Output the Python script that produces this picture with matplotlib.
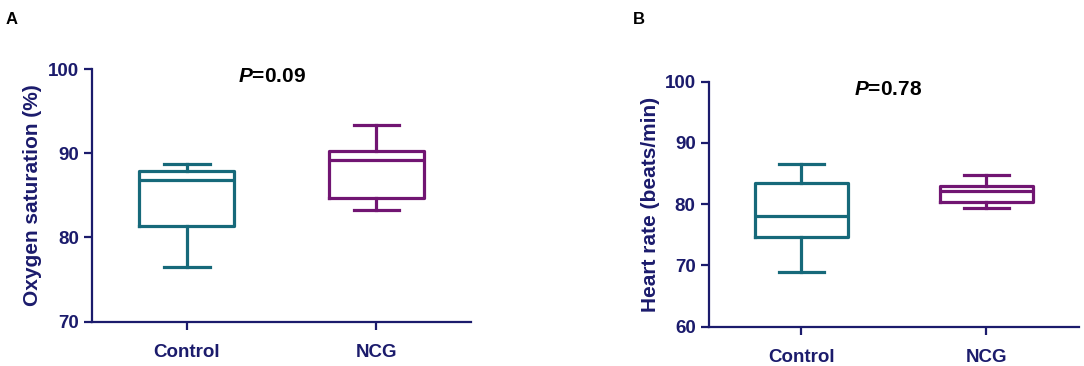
import matplotlib
matplotlib.use("Agg")
import matplotlib.pyplot as plt

plt.rcParams["font.family"] = ["Liberation Sans", "DejaVu Sans"]
plt.rcParams["font.weight"] = "bold"
plt.rcParams["mathtext.fontset"] = "custom"
plt.rcParams["mathtext.it"] = "Liberation Sans:italic:bold"

navy = "#1b1b6c"
teal = "#16697a"
purple = "#711572"

groups = ["Control", "NCG"]

# oxygen saturation (%) box stats: whislo, q1, med, q3, whishi
o2_control = [76.5, 81.4, 86.8, 87.9, 88.7]
o2_ncg = [83.3, 84.7, 89.2, 90.3, 93.3]

# heart rate (beats/min)
hr_control = [68.9, 74.7, 78.0, 83.5, 86.5]
hr_ncg = [79.4, 80.3, 82.2, 82.9, 84.7]

p_values = ["0.09", "0.78"]


def stats(vals, label):
    lo, q1, med, q3, hi = vals
    return dict(whislo=lo, q1=q1, med=med, q3=q3, whishi=hi, label=label, fliers=[])


def panel(ax, data, ylim, yticks, ylabel, pval, ptxt_x, lpad):
    colors = [teal, purple]
    for i, (vals, c) in enumerate(zip(data, colors)):
        lw = 2.3
        ax.bxp([stats(vals, groups[i])], positions=[i + 1], widths=0.5,
               capwidths=0.24, showfliers=False,
               boxprops=dict(color=c, linewidth=lw),
               medianprops=dict(color=c, linewidth=lw),
               whiskerprops=dict(color=c, linewidth=lw),
               capprops=dict(color=c, linewidth=lw))
    ax.set_xlim(0.5, 2.5)
    ax.set_ylim(*ylim)
    ax.set_yticks(yticks)
    ax.set_xticks([1, 2])
    ax.set_xticklabels(groups)
    for s in ["top", "right"]:
        ax.spines[s].set_visible(False)
    for s in ["left", "bottom"]:
        ax.spines[s].set_color(navy)
        ax.spines[s].set_linewidth(1.6)
    ax.tick_params(colors=navy, width=1.6, length=6, labelsize=13.5)
    ax.tick_params(axis="x", pad=10, labelsize=13.5)
    for lab in ax.get_xticklabels() + ax.get_yticklabels():
        lab.set_fontweight("bold")
        lab.set_color(navy)
    ax.set_ylabel(ylabel, fontsize=15, fontweight="bold", color=navy, labelpad=lpad)
    ax.text(ptxt_x, ylim[1] - 0.03 * (ylim[1] - ylim[0]), "$\\mathit{P}$=" + pval,
            ha="center", va="center", fontsize=15, fontweight="bold", color="black")


fig = plt.figure(figsize=(10.84, 3.66), dpi=100)
axA = fig.add_axes([0.0849, 0.121, 0.3496, 0.6904])
axB = fig.add_axes([0.654, 0.1074, 0.3413, 0.6694])

panel(axA, [o2_control, o2_ncg], (70, 100), [70, 80, 90, 100],
      "Oxygen saturation (%)", p_values[0], 1.45, 4)
panel(axB, [hr_control, hr_ncg], (60, 100), [60, 70, 80, 90, 100],
      "Heart rate (beats/min)", p_values[1], 1.47, 3)

fig.text(6 / 1084, 1 - 19 / 366, "A", fontsize=12, fontweight="bold", va="center")
fig.text(633 / 1084, 1 - 19 / 366, "B", fontsize=12, fontweight="bold", va="center")

fig.savefig("out.png", dpi=100)
